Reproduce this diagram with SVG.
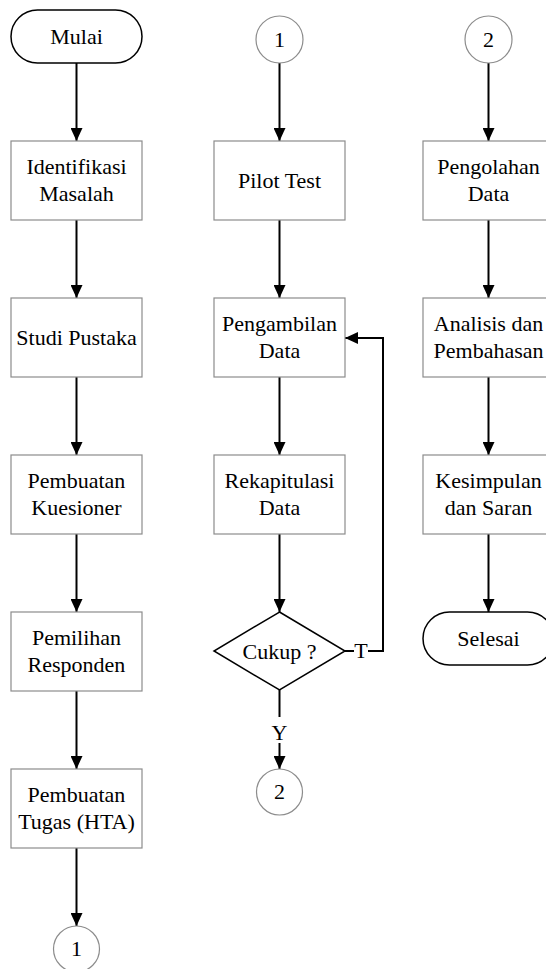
<svg xmlns="http://www.w3.org/2000/svg" width="546" height="969" viewBox="0 0 546 969">
<style>
.box{fill:#fff;stroke:#8c8c8c;stroke-width:1.2}
.term{fill:#fff;stroke:#000;stroke-width:1.5}
.circ{fill:#fff;stroke:#8c8c8c;stroke-width:1.2}
.dia{fill:#fff;stroke:#000;stroke-width:1.5}
.t{font-family:"Liberation Serif","Times New Roman",serif;font-size:22px;fill:#000;text-anchor:middle}
.c{fill:none;stroke:#000;stroke-width:2}
.a{marker-end:url(#ah)}
</style>
<defs>
<marker id="ah" viewBox="0 0 13 12" refX="13" refY="6" markerWidth="13" markerHeight="12" markerUnits="userSpaceOnUse" orient="auto">
<path d="M0,0 L13,6 L0,12 z" fill="#000"/>
</marker>
</defs>
<rect width="546" height="969" fill="#fff"/>
<g id="connectors">
<line class="c a" x1="76.5" y1="63" x2="76.5" y2="141"/>
<line class="c a" x1="76.5" y1="220" x2="76.5" y2="298"/>
<line class="c a" x1="76.5" y1="377" x2="76.5" y2="455"/>
<line class="c a" x1="76.5" y1="534" x2="76.5" y2="612"/>
<line class="c a" x1="76.5" y1="691" x2="76.5" y2="769"/>
<line class="c a" x1="76.5" y1="848" x2="76.5" y2="926"/>
<line class="c a" x1="279.5" y1="63" x2="279.5" y2="141"/>
<line class="c a" x1="279.5" y1="220" x2="279.5" y2="298"/>
<line class="c a" x1="279.5" y1="377" x2="279.5" y2="455"/>
<line class="c a" x1="279.5" y1="534" x2="279.5" y2="612"/>
<line class="c" x1="279.5" y1="690" x2="279.5" y2="717"/>
<line class="c a" x1="279.5" y1="743" x2="279.5" y2="769"/>
<line class="c" x1="345" y1="651" x2="354" y2="651"/>
<polyline class="c a" points="368,651 383,651 383,338 345,338"/>
<line class="c a" x1="488.5" y1="63" x2="488.5" y2="141"/>
<line class="c a" x1="488.5" y1="220" x2="488.5" y2="298"/>
<line class="c a" x1="488.5" y1="377" x2="488.5" y2="455"/>
<line class="c a" x1="488.5" y1="533" x2="488.5" y2="612"/>
<text class="t" x="361" y="658">T</text>
<text class="t" x="279.5" y="740">Y</text>
</g>
<g id="mulai"><rect class="term" x="11" y="10" width="131" height="53" rx="26.5"/><text class="t" x="76.5" y="43.5">Mulai</text></g>
<g id="identifikasi"><rect class="box" x="11" y="141" width="131" height="79"/><text class="t" x="76.5" y="174">Identifikasi</text><text class="t" x="76.5" y="201">Masalah</text></g>
<g id="studi"><rect class="box" x="11" y="298" width="131" height="79"/><text class="t" x="76.5" y="345">Studi Pustaka</text></g>
<g id="kuesioner"><rect class="box" x="11" y="455" width="131" height="79"/><text class="t" x="76.5" y="488">Pembuatan</text><text class="t" x="76.5" y="515">Kuesioner</text></g>
<g id="responden"><rect class="box" x="11" y="612" width="131" height="79"/><text class="t" x="76.5" y="645">Pemilihan</text><text class="t" x="76.5" y="672">Responden</text></g>
<g id="tugas"><rect class="box" x="11" y="769" width="131" height="79"/><text class="t" x="76.5" y="802">Pembuatan</text><text class="t" x="76.5" y="829">Tugas (HTA)</text></g>
<g id="conn1a"><circle class="circ" cx="76.5" cy="949" r="23"/><text class="t" x="76.5" y="956">1</text></g>
<g id="conn1b"><circle class="circ" cx="279.5" cy="39.5" r="23.5"/><text class="t" x="279.5" y="46.5">1</text></g>
<g id="pilot"><rect class="box" x="214" y="141" width="131" height="79"/><text class="t" x="279.5" y="188">Pilot Test</text></g>
<g id="pengambilan"><rect class="box" x="214" y="298" width="131" height="79"/><text class="t" x="279.5" y="331">Pengambilan</text><text class="t" x="279.5" y="358">Data</text></g>
<g id="rekap"><rect class="box" x="214" y="455" width="131" height="79"/><text class="t" x="279.5" y="488">Rekapitulasi</text><text class="t" x="279.5" y="515">Data</text></g>
<g id="cukup"><polygon class="dia" points="279.5,612 345,651 279.5,690 214,651"/><text class="t" x="279.5" y="659">Cukup ?</text></g>
<g id="conn2a"><circle class="circ" cx="279.5" cy="792" r="23"/><text class="t" x="279.5" y="799">2</text></g>
<g id="conn2b"><circle class="circ" cx="488.5" cy="39.5" r="23.5"/><text class="t" x="488.5" y="46.5">2</text></g>
<g id="pengolahan"><rect class="box" x="423" y="141" width="131" height="79"/><text class="t" x="488.5" y="174">Pengolahan</text><text class="t" x="488.5" y="201">Data</text></g>
<g id="analisis"><rect class="box" x="423" y="298" width="131" height="79"/><text class="t" x="488.5" y="331">Analisis dan</text><text class="t" x="488.5" y="358">Pembahasan</text></g>
<g id="kesimpulan"><rect class="box" x="423" y="455" width="131" height="79"/><text class="t" x="488.5" y="488">Kesimpulan</text><text class="t" x="488.5" y="515">dan Saran</text></g>
<g id="selesai"><rect class="term" x="423" y="612" width="131" height="53" rx="26.5"/><text class="t" x="488.5" y="645.5">Selesai</text></g>
</svg>
